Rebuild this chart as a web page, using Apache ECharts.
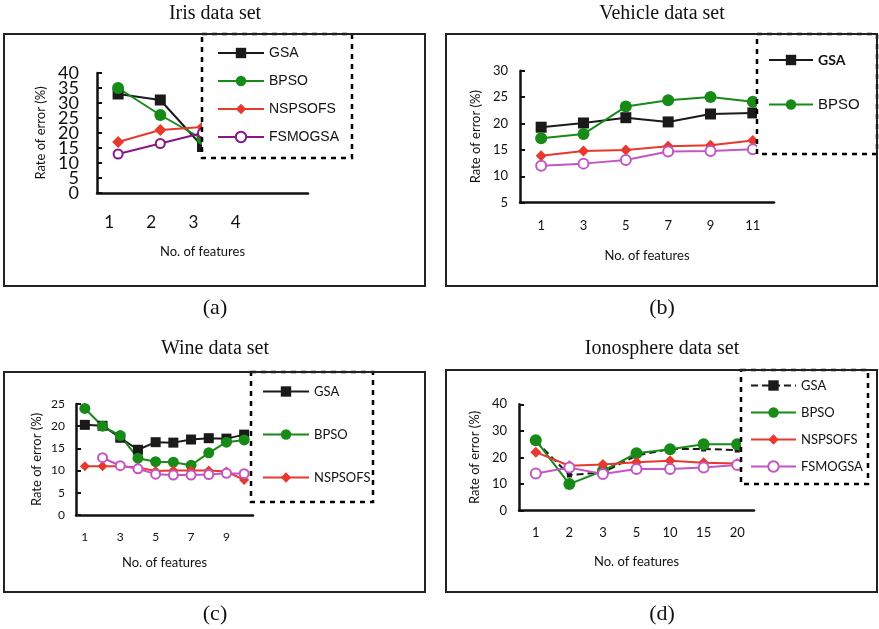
<!DOCTYPE html>
<html>
<head>
<meta charset="utf-8">
<script src="https://cdn.jsdelivr.net/npm/echarts@6/dist/echarts.min.js"></script>
<style>
body { margin: 0; background: #fff; }
.panel { position: absolute; }
</style>
</head>
<body>
<div id="pa" class="panel" style="left:0;top:0;width:440px;height:330px"></div>
<div id="pb" class="panel" style="left:440px;top:0;width:439px;height:330px"></div>
<div id="pc" class="panel" style="left:0;top:330px;width:440px;height:299px"></div>
<div id="pd" class="panel" style="left:440px;top:330px;width:439px;height:299px"></div>
<script>
// Iris
var irisFeatures = ['1', '2', '3', '4', ''];
var irisGSA = [33, 31, 15.5];
var irisBPSO = [35, 26, 18];
var irisNSPSOFS = [17, 21, 22];
var irisFSMOGSA = [13, 16.5, 20];
var irisTicksEven = [0, 10, 20, 30, 40];
var irisTicksOdd = [5, 15, 25, 35];

// Vehicle
var vehicleFeatures = ['1', '3', '5', '7', '9', '11'];
var vehicleGSA = [19.3, 20.1, 21.1, 20.3, 21.8, 22.0];
var vehicleBPSO = [17.2, 18.0, 23.2, 24.4, 25.0, 24.1];
var vehicleNSPSOFS = [13.9, 14.8, 15.0, 15.7, 15.9, 16.8];
var vehicleFSMOGSA = [12.0, 12.4, 13.1, 14.7, 14.8, 15.1];

// Wine
var wineFeatures = ['1', '2', '3', '4', '5', '6', '7', '8', '9', '10'];
var wineGSA = [20.3, 20.1, 17.4, 14.7, 16.4, 16.3, 17.0, 17.3, 17.2, 18.1];
var wineBPSO = [24.0, 20.0, 17.9, 12.8, 12.0, 11.9, 11.2, 14.0, 16.4, 16.9];
var wineNSPSOFS = [11.0, 11.0, 11.0, 10.7, 9.9, 10.0, 10.0, 10.0, 9.8, 7.9];
var wineFSMOGSA = ['-', 12.9, 11.1, 10.4, 9.2, 9.0, 9.0, 9.1, 9.4, 9.3];

// Ionosphere
var ionoFeatures = ['1', '2', '3', '5', '10', '15', '20'];
var ionoGSA = [26.2, 13.4, 14.4, 20.7, 23.2, 23.2, 22.8];
var ionoBPSO = [26.5, 10.0, 15.0, 21.6, 23.1, 25.0, 25.0];
var ionoNSPSOFS = [22.0, 16.9, 17.4, 18.2, 18.8, 18.0, 17.7];
var ionoFSMOGSA = [14.0, 16.2, 13.8, 15.7, 15.7, 16.2, 17.2];

var BLACK = '#1a1a1a';
var GREEN = '#178a17';
var RED = '#e8392e';
var PURPLE = '#86188a';
var PINK = '#c455c4';
var CAL = 'Lato, "Open Sans", sans-serif';
var ARIAL = '"Liberation Sans", Arial, sans-serif';
var SERIF = '"Liberation Serif", "Times New Roman", serif';

function makeSeries (s) {
  var empty = s.symbol === 'emptyCircle'
  return {
    name: s.name,
    type: 'line',
    data: s.data,
    symbol: s.symbol,
    symbolSize: s.size,
    color: s.color,
    z: 3,
    lineStyle: { color: s.color, width: 2, type: s.dash ? [7, 4] : 'solid' },
    itemStyle: empty ? { color: s.color, borderColor: s.color, borderWidth: 2 } : { color: s.color },
    emphasis: { disabled: true },
    animation: false
  }
}

function drawPanel (id, p) {
  var chart = echarts.init(document.getElementById(id))
  var yLabel = {
    fontFamily: CAL,
    fontSize: p.yLabelSize,
    color: '#111',
    margin: p.yLabelMargin,
    showMinLabel: true,
    showMaxLabel: true
  }
  var yAxes = [{
    type: 'value',
    min: p.yMin,
    max: p.yMax,
    interval: p.yStep,
    name: 'Rate of error (%)',
    nameLocation: 'middle',
    nameGap: p.yNameGap,
    nameTextStyle: { fontFamily: CAL, fontSize: 13, color: '#111' },
    axisLine: { show: true, lineStyle: { color: '#111', width: 2.5 } },
    axisTick: { show: true, inside: true, length: 5, lineStyle: { color: '#111', width: 2 } },
    axisLabel: p.ySplitLabels ? Object.assign({ customValues: p.ySplitLabels[0] }, yLabel) : yLabel,
    splitLine: { show: false }
  }]
  if (p.ySplitLabels) {
    // second label set so the crowded big labels all stay visible
    yAxes.push({
      type: 'value',
      position: 'left',
      min: p.yMin,
      max: p.yMax,
      interval: p.yStep,
      axisLine: { show: false },
      axisTick: { show: false },
      axisLabel: Object.assign({ customValues: p.ySplitLabels[1] }, yLabel),
      splitLine: { show: false }
    })
  }
  chart.setOption({
    animation: false,
    grid: { left: p.grid[0], top: p.grid[1], width: p.grid[2], height: p.grid[3] },
    xAxis: {
      type: 'category',
      data: p.categories,
      boundaryGap: true,
      name: 'No. of features',
      nameLocation: 'middle',
      nameGap: p.xNameGap,
      nameTextStyle: { fontFamily: CAL, fontSize: 13, color: '#111' },
      axisLine: { lineStyle: { color: '#111', width: 2.5 } },
      axisTick: { inside: true, length: 5, interval: p.tickInterval, lineStyle: { color: '#111', width: 2 } },
      axisLabel: Object.assign({
        interval: p.labelInterval,
        fontFamily: CAL,
        fontSize: p.xLabelSize,
        color: '#111',
        margin: p.xLabelMargin
      }, p.xLabelExtra || {}),
      splitLine: { show: false }
    },
    yAxis: yAxes,
    legend: p.legend,
    graphic: [
      {
        type: 'text', x: p.title[1], y: p.title[2], z: 40,
        style: { text: p.title[0], font: '20px ' + SERIF, fill: '#111', align: 'center', verticalAlign: 'middle' }
      },
      {
        type: 'text', x: p.caption[1], y: p.caption[2], z: 40,
        style: { text: p.caption[0], font: '22px ' + SERIF, fill: '#111', align: 'center', verticalAlign: 'middle' }
      },
      {
        type: 'rect', z: 10,
        shape: { x: p.box[0], y: p.box[1], width: p.box[2], height: p.box[3] },
        style: { fill: '#fff', stroke: '#000', lineWidth: 2.5, lineDash: [5, 5] }
      },
      {
        type: 'rect', z: 30,
        shape: { x: p.frame[0], y: p.frame[1], width: p.frame[2], height: p.frame[3] },
        style: { fill: null, stroke: '#222', lineWidth: 2 }
      }
    ],
    series: p.series.map(makeSeries)
  })
}

function legendOf (names, left, top, gap, font, size) {
  return {
    orient: 'vertical',
    left: left,
    top: top,
    z: 20,
    padding: 0,
    itemWidth: 46,
    itemHeight: 13,
    itemGap: gap,
    selectedMode: false,
    textStyle: { fontFamily: font, fontSize: size, color: '#111' },
    data: names
  }
}

drawPanel('pa', {
  title: ['Iris data set', 215, 14],
  caption: ['(a)', 215, 308],
  frame: [4, 34, 421, 252],
  box: [202, 34, 150, 124],
  grid: [97, 73, 211, 120],
  categories: irisFeatures,
  yMin: 0, yMax: 40, yStep: 5,
  ySplitLabels: [irisTicksEven, irisTicksOdd],
  yLabelSize: 18, yLabelMargin: 18,
  xLabelSize: 17, xLabelMargin: 21,
  xLabelExtra: { padding: [0, 18, 0, 0] },
  xNameGap: 52, yNameGap: 50,
  tickInterval: 0, labelInterval: 0,
  legend: legendOf(['GSA', 'BPSO', 'NSPSOFS', 'FSMOGSA'], 217, 46, 14, ARIAL, 14),
  series: [
    { name: 'GSA', data: irisGSA, color: BLACK, symbol: 'rect', size: 11 },
    { name: 'BPSO', data: irisBPSO, color: GREEN, symbol: 'circle', size: 12 },
    { name: 'NSPSOFS', data: irisNSPSOFS, color: RED, symbol: 'diamond', size: 12 },
    { name: 'FSMOGSA', data: irisFSMOGSA, color: PURPLE, symbol: 'emptyCircle', size: 9 }
  ]
})

var legendB = legendOf([
  { name: 'GSA', textStyle: { fontFamily: CAL, fontWeight: 'bold', fontSize: 14 } },
  { name: 'BPSO', textStyle: { fontFamily: ARIAL, fontSize: 15 } }
], 328, 53, 30, ARIAL, 15)
legendB.itemWidth = 44

drawPanel('pb', {
  title: ['Vehicle data set', 222, 14],
  caption: ['(b)', 222, 308],
  frame: [6, 34, 431, 252],
  box: [317, 34, 120, 120],
  grid: [80, 70.7, 254, 132],
  categories: vehicleFeatures,
  yMin: 5, yMax: 30, yStep: 5,
  yLabelSize: 13, yLabelMargin: 12,
  xLabelSize: 13, xLabelMargin: 17,
  xNameGap: 47, yNameGap: 37,
  tickInterval: 1, labelInterval: 0,
  legend: legendB,
  series: [
    { name: 'GSA', data: vehicleGSA, color: BLACK, symbol: 'rect', size: 11 },
    { name: 'BPSO', data: vehicleBPSO, color: GREEN, symbol: 'circle', size: 12 },
    { name: 'NSPSOFS', data: vehicleNSPSOFS, color: RED, symbol: 'diamond', size: 11 },
    { name: 'FSMOGSA', data: vehicleFSMOGSA, color: PINK, symbol: 'emptyCircle', size: 10 }
  ]
})

drawPanel('pc', {
  title: ['Wine data set', 215, 19],
  caption: ['(c)', 215, 284],
  frame: [4, 42, 421, 220],
  box: [251, 42, 122, 130],
  grid: [76, 74, 177, 111],
  categories: wineFeatures,
  yMin: 0, yMax: 25, yStep: 5,
  yLabelSize: 12, yLabelMargin: 11,
  xLabelSize: 12, xLabelMargin: 16,
  xNameGap: 41, yNameGap: 33,
  tickInterval: 0, labelInterval: 1,
  legend: legendOf(['GSA', 'BPSO', 'NSPSOFS'], 262, 55, 30, CAL, 13),
  series: [
    { name: 'GSA', data: wineGSA, color: BLACK, symbol: 'rect', size: 10 },
    { name: 'BPSO', data: wineBPSO, color: GREEN, symbol: 'circle', size: 11 },
    { name: 'NSPSOFS', data: wineNSPSOFS, color: RED, symbol: 'diamond', size: 10 },
    { name: 'FSMOGSA', data: wineFSMOGSA, color: PINK, symbol: 'emptyCircle', size: 9 }
  ]
})

var legendD = legendOf(['GSA', 'BPSO', 'NSPSOFS', 'FSMOGSA'], 310, 49, 14, CAL, 13)
legendD.itemWidth = 45

drawPanel('pd', {
  title: ['Ionosphere data set', 222, 19],
  caption: ['(d)', 222, 284],
  frame: [6, 40, 431, 222],
  box: [301, 40, 127, 114],
  grid: [79, 74.3, 235, 106.4],
  categories: ionoFeatures,
  yMin: 0, yMax: 40, yStep: 10,
  yLabelSize: 13, yLabelMargin: 12,
  xLabelSize: 13, xLabelMargin: 16,
  xNameGap: 45, yNameGap: 36,
  tickInterval: 0, labelInterval: 0,
  legend: legendD,
  series: [
    { name: 'GSA', data: ionoGSA, color: BLACK, symbol: 'rect', size: 5, dash: true },
    { name: 'BPSO', data: ionoBPSO, color: GREEN, symbol: 'circle', size: 12 },
    { name: 'NSPSOFS', data: ionoNSPSOFS, color: RED, symbol: 'diamond', size: 11 },
    { name: 'FSMOGSA', data: ionoFSMOGSA, color: PINK, symbol: 'emptyCircle', size: 10 }
  ]
})
</script>
</body>
</html>
